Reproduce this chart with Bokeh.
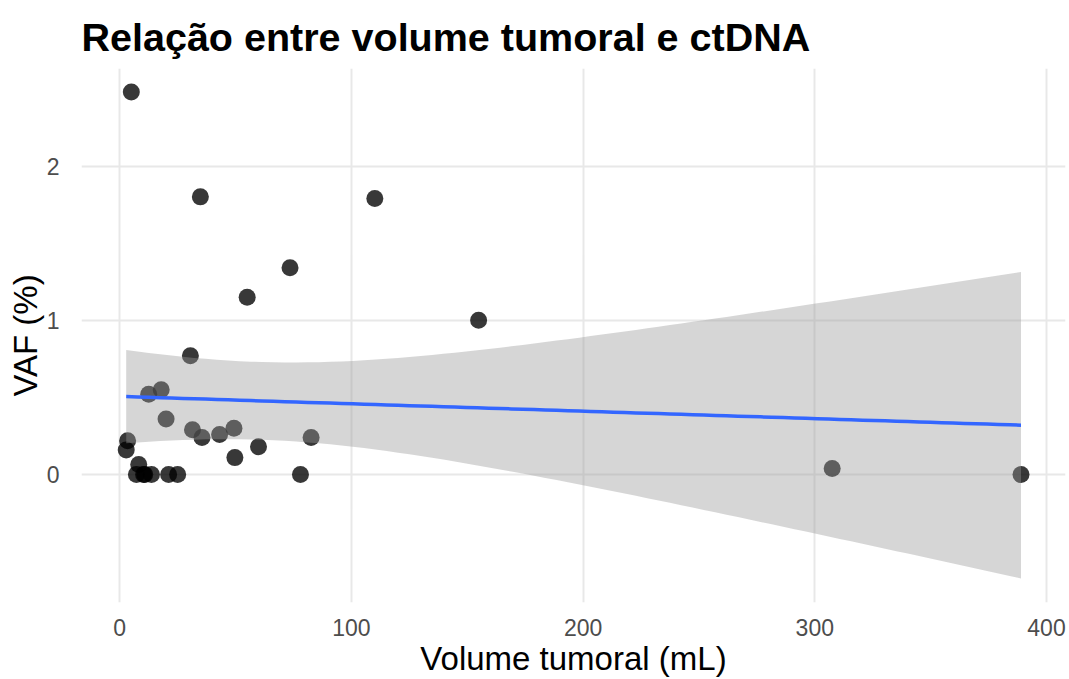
import numpy as np
from bokeh.plotting import figure
from bokeh.models import ColumnDataSource, FixedTicker
from bokeh.embed import file_html
from bokeh.resources import INLINE

# Data
volume = [5.0, 34.8, 110.1, 73.5, 55.0, 154.9, 30.5, 17.9, 12.5, 20.0, 3.4, 2.8,
          31.4, 35.5, 43.1, 49.3, 49.7, 59.9, 82.6, 78.0, 307.5, 389.0, 8.2,
          7.2, 10.3, 10.8, 13.7, 21.1, 25.0]
vaf = [2.48, 1.80, 1.79, 1.34, 1.15, 1.00, 0.77, 0.55, 0.52, 0.36, 0.22, 0.16,
       0.29, 0.24, 0.26, 0.30, 0.11, 0.18, 0.24, 0.00, 0.04, 0.00, 0.065,
       0.00, 0.00, 0.00, 0.00, 0.00, 0.00]
x_ticks = [0, 100, 200, 300, 400]
y_ticks = [0, 1, 2]

# Linear fit with 95% confidence band (as geom_smooth(method="lm"))
x = np.array(volume)
y = np.array(vaf)
n = len(x)
b1, b0 = np.polyfit(x, y, 1)
resid = y - (b0 + b1 * x)
s = np.sqrt(np.sum(resid ** 2) / (n - 2))
sxx = np.sum((x - x.mean()) ** 2)
t_crit = 2.0518  # t(0.975, df=27)
xs = np.linspace(x.min(), x.max(), 80)
ys = b0 + b1 * xs
se = s * np.sqrt(1.0 / n + (xs - x.mean()) ** 2 / sxx)
lower = ys - t_crit * se
upper = ys + t_crit * se

FONT = "Liberation Sans"

p = figure(width=1069, height=679, output_backend="svg", toolbar_location=None,
           x_range=(-16.5, 408.2), y_range=(-0.829, 2.632),
           min_border_left=81, min_border_right=4, min_border_top=68,
           min_border_bottom=60)

p.title.text = "Relação entre volume tumoral e ctDNA"
p.title.text_font = FONT
p.title.text_font_size = "39.5px"
p.title.text_font_style = "bold"
p.title.text_color = "#000000"
p.title.align = "left"
p.title.offset = 0
p.title.standoff = 20

p.outline_line_color = None
p.background_fill_color = "white"
p.border_fill_color = "white"

for ax in (p.xaxis[0], p.yaxis[0]):
    ax.axis_line_color = None
    ax.major_tick_line_color = None
    ax.minor_tick_line_color = None
    ax.major_label_text_font = FONT
    ax.major_label_text_font_size = "23px"
    ax.major_label_text_color = "#4D4D4D"
    ax.axis_label_text_font = FONT
    ax.axis_label_text_font_size = "33px"
    ax.axis_label_text_font_style = "normal"
    ax.axis_label_text_color = "#000000"

p.xaxis[0].ticker = FixedTicker(ticks=x_ticks)
p.yaxis[0].ticker = FixedTicker(ticks=y_ticks)
p.xaxis.axis_label = "Volume tumoral (mL)"
p.yaxis.axis_label = "VAF (%)"
p.xaxis.major_label_standoff = 10
p.yaxis.major_label_standoff = 16
p.xaxis.axis_label_standoff = 1
p.yaxis.axis_label_standoff = 0

p.xgrid.ticker = FixedTicker(ticks=x_ticks)
p.ygrid.ticker = FixedTicker(ticks=y_ticks)
p.grid.grid_line_color = "#E8E8E8"
p.grid.grid_line_width = 2

pts = ColumnDataSource(dict(x=volume, y=vaf))
p.scatter("x", "y", source=pts, size=17, fill_color="black", fill_alpha=0.78,
          line_color=None)

band = ColumnDataSource(dict(x=xs, lo=lower, hi=upper, y=ys))
p.varea(x="x", y1="lo", y2="hi", source=band, fill_color="#999999", fill_alpha=0.4)
p.line("x", "y", source=band, line_color="#3366FF", line_width=3.5)

open("out.html", "w").write(file_html(p, INLINE))
